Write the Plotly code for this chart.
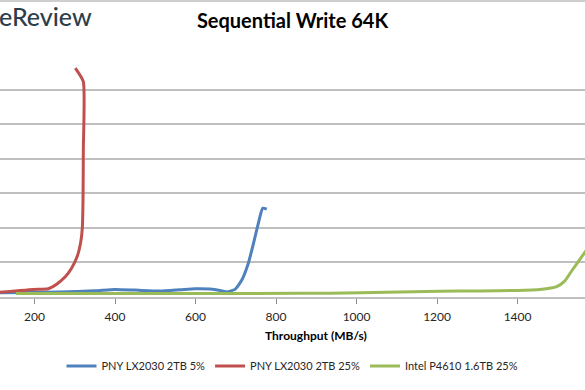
import plotly.graph_objects as go

# ---- data (throughput MB/s vs latency) ----
red_x = [60, 114, 197, 234, 255, 277, 292, 306, 315, 319, 320.5, 321.3, 321.3, 301.4]
red_y = [1.3, 1.4, 2.2, 2.4, 3.7, 5.9, 8.3, 11.7, 16.0, 20.3, 28.0, 42.5, 62.3, 66.2]

blue_x = [60, 114, 263, 350, 400, 450, 512, 562, 599, 636, 661, 678, 698, 715, 731, 744, 756, 767, 777]
blue_y = [1.2, 1.25, 1.45, 1.8, 2.2, 2.0, 1.7, 2.1, 2.4, 2.3, 1.9, 1.5, 2.2, 4.9, 9.7, 15.5, 21.3, 25.7, 25.4]

green_x = [154, 363, 611, 860, 1009, 1207, 1307, 1399, 1456, 1497, 1517, 1533, 1550, 1567, 1590, 1620]
green_y = [1.0, 1.0, 1.0, 1.05, 1.2, 1.65, 1.75, 1.9, 2.2, 3.0, 4.6, 7.3, 10.1, 12.9, 16.5, 20.5]

series_names = ["PNY LX2030 2TB 5%", "PNY LX2030 2TB 25%", "Intel P4610 1.6TB 25%"]
colors = ["#4F81BD", "#C0504D", "#9BBB59"]

title_text = "Sequential Write 64K"
xaxis_title = "Throughput (MB/s)"
logo_text = "eReview"

FONT = "Lato, 'Open Sans', sans-serif"

fig = go.Figure()
for name, xs, ys, c in [
    (series_names[0], blue_x, blue_y, colors[0]),
    (series_names[1], red_x, red_y, colors[1]),
    (series_names[2], green_x, green_y, colors[2]),
]:
    fig.add_trace(go.Scatter(
        x=xs, y=ys, name=name, mode="lines",
        line=dict(color=c, width=3, shape="spline", smoothing=0.5),
        hoverinfo="skip",
    ))

fig.update_layout(
    width=585, height=390,
    margin=dict(l=0, r=0, t=55, b=93),
    paper_bgcolor="white", plot_bgcolor="white",
    font=dict(family=FONT, size=11, color="#262626"),
    title=dict(text="<b>" + title_text + "</b>", x=0.5, xanchor="center",
               y=1 - 21 / 390, yanchor="middle",
               font=dict(family=FONT, size=20, color="#000000")),
    showlegend=True,
    legend=dict(orientation="h", x=0.5, xanchor="center",
                y=-0.285, yanchor="middle",
                font=dict(family=FONT, size=11, color="#262626"),
                itemwidth=30, tracegroupgap=0),
    xaxis=dict(range=[114.3, 1567.5], dtick=200, tick0=0,
               showgrid=False, zeroline=False,
               showline=True, linecolor="#BFBFBF", linewidth=1.5,
               ticks="outside", ticklen=5, tickcolor="#8C8C8C", tickwidth=1,
               ticklabelstandoff=3,
               tickfont=dict(family=FONT, size=12, color="#262626")),
    yaxis=dict(range=[0, 70], dtick=10, showticklabels=False,
               showgrid=True, gridcolor="#BFBFBF", gridwidth=1.5,
               zeroline=False, showline=False, ticks=""),
)

fig.add_annotation(text="<b>" + xaxis_title + "</b>", xref="x", yref="paper",
                   x=900, y=0, yshift=-38, showarrow=False,
                   xanchor="center", yanchor="middle",
                   font=dict(family=FONT, size=12, color="#000000"))

fig.add_annotation(text=logo_text, xref="paper", yref="paper",
                   x=0, y=1, xanchor="left", yanchor="middle", xshift=-3, yshift=39,
                   showarrow=False,
                   font=dict(family=FONT, size=25, color="#2C3E4A", weight=500))

# chart border line at the top of the picture
fig.add_shape(type="line", xref="paper", yref="paper", x0=0, x1=1,
              y0=(297 - 1) / 242, y1=(297 - 1) / 242,
              line=dict(color="#BFBFBF", width=1.5))

fig.write_html("out.html")
